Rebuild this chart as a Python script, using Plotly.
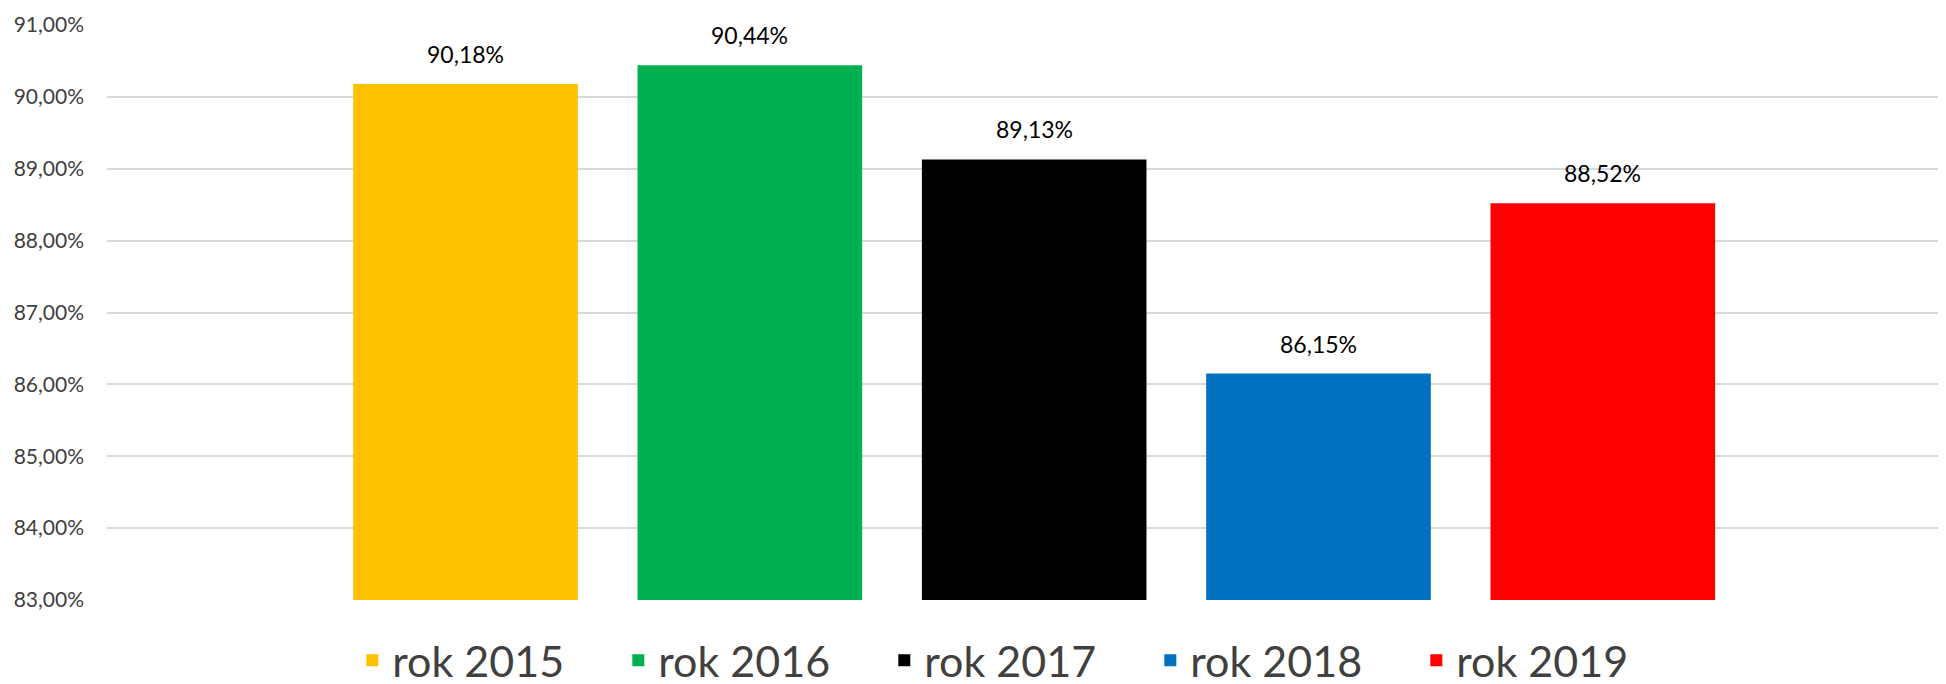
import plotly.graph_objects as go

years = ["rok 2015", "rok 2016", "rok 2017", "rok 2018", "rok 2019"]
values = [90.18, 90.44, 89.13, 86.15, 88.52]
colors = ["#FFC000", "#00B050", "#000000", "#0070C0", "#FF0000"]
ytick_vals = [83, 84, 85, 86, 87, 88, 89, 90, 91]

font_name = "Lato"

fig = go.Figure()
for yr, v, c in zip(years, values, colors):
    fig.add_trace(go.Bar(
        x=[yr], y=[v], name=yr,
        marker=dict(color=c, line=dict(width=0)),
        width=0.79,
    ))
    fig.add_annotation(
        x=yr, y=v, text=f"{v:.2f}%".replace(".", ","),
        showarrow=False, yanchor="bottom", yshift=14,
        font=dict(family=font_name, size=23, color="#000000"),
    )

# page body has an 8px margin, so the figure is sized to the visible area
fig.update_layout(
    width=1938, height=676,
    barmode="overlay",
    plot_bgcolor="white", paper_bgcolor="white",
    margin=dict(t=17, b=84, l=99, r=0, autoexpand=False),
    separators=", ",
    font=dict(family=font_name, color="#404040"),
    legend=dict(
        orientation="h", x=0.495, xanchor="center",
        yref="container", y=0.035, yanchor="middle",
        font=dict(family=font_name, size=43, color="#404040"),
        entrywidth=221, itemclick=False,
    ),
    showlegend=True,
)
fig.update_xaxes(
    type="category", categoryorder="array", categoryarray=years,
    range=[-1.261, 5.207], showticklabels=False, showgrid=False,
    zeroline=False, showline=False,
)
fig.update_yaxes(
    range=[83, 91], tickvals=ytick_vals,
    ticktext=[f"{t:.2f}%".replace(".", ",") for t in ytick_vals],
    showgrid=True, gridcolor="#D9D9D9", gridwidth=2,
    zeroline=False, showline=False,
    tickfont=dict(family=font_name, size=21, color="#404040"),
    ticklabelstandoff=22,
)

fig.write_html("out.html")
